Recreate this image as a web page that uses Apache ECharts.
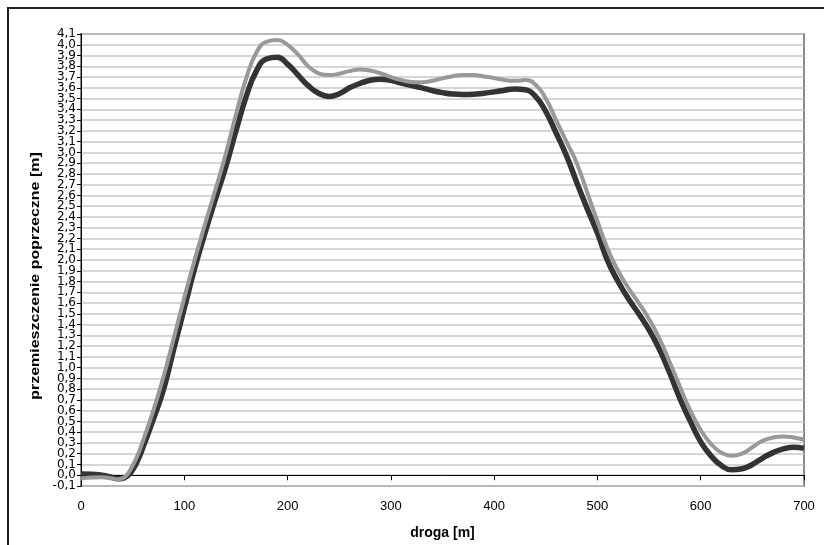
<!DOCTYPE html>
<html>
<head>
<meta charset="utf-8">
<script src="https://cdn.jsdelivr.net/npm/echarts@6/dist/echarts.min.js"></script>
<style>
  html, body { margin: 0; padding: 0; background: #fff; }
  #main { width: 824px; height: 545px; }
</style>
</head>
<body>
<div id="main"></div>
<script>
// droga [m]
var droga = [0, 10, 20, 30, 35, 40, 45, 50, 55, 60, 70, 80, 90,
  100, 110, 120, 130, 140, 150, 160, 170, 180, 190,
  200, 210, 220, 230, 240, 250, 260, 270, 280, 290,
  300, 310, 320, 330, 340, 350, 360, 370, 380, 390,
  400, 410, 420, 430, 440, 450, 460, 470, 480, 490,
  500, 510, 520, 530, 540, 550, 560, 570, 580, 590,
  600, 610, 620, 630, 640, 650, 660, 670, 680, 690, 700];

// ciemna linia (gruba)
var ciemna = [0.012, 0.01, 0.0, -0.02, -0.032, -0.03, -0.006, 0.05, 0.14, 0.26, 0.52, 0.8, 1.18,
  1.55, 1.92, 2.25, 2.56, 2.86, 3.2, 3.52, 3.76, 3.87, 3.885,
  3.82, 3.72, 3.62, 3.55, 3.52, 3.545, 3.6, 3.64, 3.67, 3.68,
  3.67, 3.645, 3.62, 3.6, 3.575, 3.555, 3.542, 3.538, 3.54, 3.55,
  3.562, 3.578, 3.59, 3.582, 3.52, 3.38, 3.18, 2.97, 2.72, 2.48,
  2.25, 1.99, 1.8, 1.64, 1.5, 1.35, 1.17, 0.95, 0.71, 0.5,
  0.31, 0.18, 0.09, 0.05, 0.06, 0.1, 0.16, 0.21, 0.245, 0.26, 0.25];

// jasna linia (cienka)
var jasna = [-0.03, -0.022, -0.018, -0.03, -0.038, -0.03, 0.01, 0.09, 0.19, 0.32, 0.6, 0.92, 1.28,
  1.65, 2.0, 2.33, 2.65, 2.98, 3.35, 3.69, 3.93, 4.03, 4.045,
  4.0, 3.91, 3.8, 3.735, 3.718, 3.73, 3.755, 3.77, 3.76, 3.735,
  3.7, 3.672, 3.655, 3.652, 3.665, 3.688, 3.708, 3.72, 3.718, 3.705,
  3.69, 3.672, 3.665, 3.672, 3.63, 3.5, 3.3, 3.1, 2.9, 2.63,
  2.36, 2.1, 1.9, 1.74, 1.6, 1.45, 1.27, 1.05, 0.82, 0.6,
  0.42, 0.29, 0.21, 0.18, 0.2, 0.26, 0.32, 0.35, 0.36, 0.35, 0.33];

var xTicks = [0, 100, 200, 300, 400, 500, 600, 700];
var yTicks = [-0.1, 0, 0.1, 0.2, 0.3, 0.4, 0.5, 0.6, 0.7, 0.8, 0.9,
  1.0, 1.1, 1.2, 1.3, 1.4, 1.5, 1.6, 1.7, 1.8, 1.9,
  2.0, 2.1, 2.2, 2.3, 2.4, 2.5, 2.6, 2.7, 2.8, 2.9,
  3.0, 3.1, 3.2, 3.3, 3.4, 3.5, 3.6, 3.7, 3.8, 3.9, 4.0, 4.1];

// etykiety co drugie na dwoch osiach, zeby echarts nie ukrywal skrajnych
var yLabelsA = yTicks.filter(function (v, i) { return i % 2 === 0; });
var yLabelsB = yTicks.filter(function (v, i) { return i % 2 === 1; });

function pary(xs, ys) {
  var out = [];
  for (var i = 0; i < xs.length; i++) {
    out.push([xs[i], ys[i]]);
  }
  return out;
}

function fmt(v) { return v.toFixed(1).replace('.', ','); }

var labelStyle = {
  margin: 5,
  fontSize: 12,
  fontFamily: 'DejaVu Sans',
  color: '#000',
  formatter: fmt
};

var myChart = echarts.init(document.getElementById('main'));

var option = {
  backgroundColor: '#fff',
  animation: false,
  textStyle: { fontFamily: 'Liberation Sans, Arial, sans-serif' },
  graphic: [
    {
      type: 'rect',
      shape: { x: 8, y: 8, width: 840, height: 560 },
      style: { fill: 'none', stroke: '#222', lineWidth: 2 },
      z: -1
    },
    {
      // opis osi Y, rozciagniety jak w oryginale
      type: 'text',
      x: 36,
      y: 276,
      rotation: Math.PI / 2,
      scaleX: 1.33,
      style: {
        text: 'przemieszczenie poprzeczne [m]',
        font: 'bold 12px "Liberation Sans", Arial, sans-serif',
        fill: '#000',
        align: 'center',
        verticalAlign: 'middle'
      }
    }
  ],
  grid: {
    left: 81, right: 20, top: 34, bottom: 57,
    show: true,
    borderColor: '#888',
    borderWidth: 2,
    backgroundColor: '#fff'
  },
  xAxis: {
    type: 'value',
    min: 0,
    max: 700,
    interval: 100,
    name: 'droga [m]',
    nameLocation: 'middle',
    nameGap: 40,
    nameTextStyle: { fontWeight: 'bold', fontSize: 14, color: '#000' },
    axisLine: { onZero: true, lineStyle: { color: '#000', width: 1 } },
    axisTick: { show: true, length: 5, lineStyle: { color: '#000' } },
    axisLabel: { margin: 14, fontSize: 13, color: '#000',
      customValues: xTicks },
    splitLine: { show: false }
  },
  yAxis: [
    {
      type: 'value',
      min: -0.1,
      max: 4.1,
      interval: 0.1,
      position: 'left',
      offset: 0,
      axisLine: { show: true, onZero: false, lineStyle: { color: '#000', width: 1 } },
      axisTick: { show: true, length: 4, lineStyle: { color: '#000' },
        customValues: yTicks },
      axisLabel: Object.assign({ customValues: yLabelsA }, labelStyle),
      splitLine: { show: true, lineStyle: { color: '#c8c8c8', width: 1.5 } }
    },
    {
      type: 'value',
      min: -0.1,
      max: 4.1,
      interval: 0.1,
      position: 'left',
      offset: 0,
      axisLine: { show: false, onZero: false },
      axisTick: { show: false },
      axisLabel: Object.assign({ customValues: yLabelsB }, labelStyle),
      splitLine: { show: false }
    }
  ],
  series: [
    {
      name: 'ciemna',
      type: 'line',
      yAxisIndex: 0,
      data: pary(droga, ciemna),
      smooth: true,
      showSymbol: false,
      lineStyle: { color: '#333', width: 5.5 },
      z: 2
    },
    {
      name: 'jasna',
      type: 'line',
      yAxisIndex: 0,
      data: pary(droga, jasna),
      smooth: true,
      showSymbol: false,
      lineStyle: { color: '#999', width: 4 },
      z: 3
    }
  ]
};

myChart.setOption(option);
</script>
</body>
</html>
